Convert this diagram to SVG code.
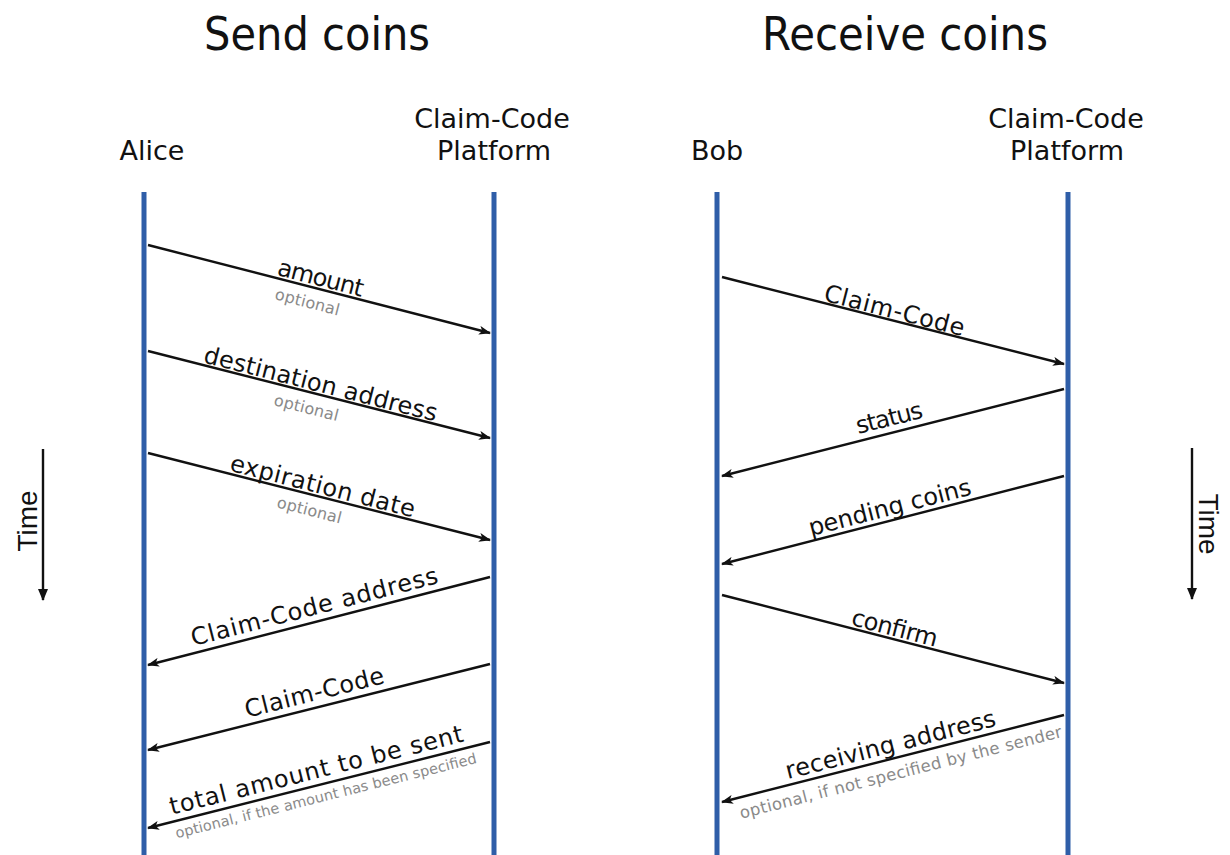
<svg xmlns="http://www.w3.org/2000/svg" width="1230" height="855" viewBox="0 0 1230 855">
<defs>
<marker id="ah" viewBox="0 0 12 10" refX="11" refY="5" markerWidth="12" markerHeight="10" markerUnits="userSpaceOnUse" orient="auto">
<path d="M0,0.5 L12,5 L0,9.5 L3,5 Z" fill="#111"/>
</marker>
<marker id="th" viewBox="0 0 12 10" refX="11" refY="5" markerWidth="12" markerHeight="10" markerUnits="userSpaceOnUse" orient="auto">
<path d="M0,0 L12,5 L0,10 Z" fill="#111"/>
</marker>
<style>
.t{font-family:"DejaVu Sans","Liberation Sans",sans-serif;fill:#111;}
.title{font-size:46px;text-anchor:middle;}
.hd{font-size:27px;text-anchor:middle;}
.lb{font-size:24px;text-anchor:middle;}
.op{font-family:"DejaVu Sans","Liberation Sans",sans-serif;fill:#8a8a8a;text-anchor:middle;}
.time{font-family:"Liberation Sans",Arial,sans-serif;font-size:28px;fill:#111;text-anchor:middle;}
.life{stroke:#2F5EA8;stroke-width:5;fill:none;}
.msg{stroke:#111;stroke-width:2.4;fill:none;marker-end:url(#ah);}
.tarrow{stroke:#111;stroke-width:2.4;fill:none;marker-end:url(#th);}
</style>
</defs>
<rect width="1230" height="855" fill="#fff"/>

<g id="titles">
<text class="t title" x="317" y="50" textLength="226" lengthAdjust="spacingAndGlyphs">Send coins</text>
<text class="t title" x="905" y="50" textLength="286" lengthAdjust="spacingAndGlyphs">Receive coins</text>
</g>

<g id="alice">
<text class="t hd" x="152" y="160">Alice</text>
<line class="life" x1="144" y1="192" x2="144" y2="855"/>
</g>
<g id="platform-send">
<text class="t hd" x="492" y="128">Claim-Code</text>
<text class="t hd" x="494" y="160">Platform</text>
<line class="life" x1="494" y1="192" x2="494" y2="855"/>
</g>
<g id="bob">
<text class="t hd" x="717" y="160">Bob</text>
<line class="life" x1="717" y1="192" x2="717" y2="855"/>
</g>
<g id="platform-receive">
<text class="t hd" x="1066" y="128">Claim-Code</text>
<text class="t hd" x="1067" y="160">Platform</text>
<line class="life" x1="1068" y1="192" x2="1068" y2="855"/>
</g>

<g id="time-left">
<line class="tarrow" x1="43" y1="449" x2="43" y2="600"/>
<text class="time" transform="translate(37,521) rotate(-90)">Time</text>
</g>
<g id="time-right">
<line class="tarrow" x1="1192" y1="448" x2="1192" y2="599"/>
<text class="time" transform="translate(1199,524) rotate(90)">Time</text>
</g>

<g id="connectors">
<line class="msg" x1="148" y1="245" x2="490" y2="333"/>
<line class="msg" x1="148" y1="351" x2="490" y2="438"/>
<line class="msg" x1="148" y1="453" x2="490" y2="540"/>
<line class="msg" x1="490" y1="577" x2="148" y2="665"/>
<line class="msg" x1="490" y1="664" x2="148" y2="750"/>
<line class="msg" x1="490" y1="742" x2="148" y2="828"/>
<line class="msg" x1="722" y1="277" x2="1064" y2="364"/>
<line class="msg" x1="1064" y1="389" x2="722" y2="476"/>
<line class="msg" x1="1064" y1="476" x2="722" y2="564"/>
<line class="msg" x1="722" y1="595" x2="1064" y2="683"/>
<line class="msg" x1="1064" y1="715" x2="722" y2="802"/>
</g>

<g id="labels">
<g transform="translate(318,288.7) rotate(14.4)">
<text class="t lb" x="0" y="-3" textLength="88">amount</text>
<text class="op" x="-7" y="21" font-size="16" textLength="66">optional</text>
</g>
<g transform="translate(318,394.7) rotate(14.3)">
<text class="t lb" x="0" y="-3" textLength="240">destination address</text>
<text class="op" x="-8" y="21" font-size="16" textLength="66">optional</text>
</g>
<g transform="translate(320,496.8) rotate(14.3)">
<text class="t lb" x="0" y="-3" textLength="190">expiration date</text>
<text class="op" x="-7" y="21" font-size="16" textLength="66">optional</text>
</g>
<g transform="translate(318,621.3) rotate(-14.4)">
<text class="t lb" x="0" y="-7" textLength="254">Claim-Code address</text>
</g>
<g transform="translate(318,707) rotate(-14.1)">
<text class="t lb" x="0" y="-7" textLength="143">Claim-Code</text>
</g>
<g transform="translate(320,784.8) rotate(-14.1)">
<text class="t lb" x="0" y="-7" font-size="26" textLength="302">total amount to be sent</text>
<text class="op" x="3" y="17" font-size="14.5" textLength="310">optional, if the amount has been specified</text>
</g>
<g transform="translate(892,320.2) rotate(14.3)">
<text class="t lb" x="0" y="-2" textLength="144">Claim-Code</text>
</g>
<g transform="translate(893,432.5) rotate(-14.3)">
<text class="t lb" x="0" y="-7" textLength="68">status</text>
</g>
<g transform="translate(893,520) rotate(-14.4)">
<text class="t lb" x="0" y="-5" textLength="167">pending coins</text>
</g>
<g transform="translate(892,638.7) rotate(14.4)">
<text class="t lb" x="0" y="-3" textLength="88">confirm</text>
</g>
<g transform="translate(894,758.2) rotate(-14.3)">
<text class="t lb" x="0" y="-6" textLength="216">receiving address</text>
<text class="op" x="3" y="21" font-size="16.5" textLength="332">optional, if not specified by the sender</text>
</g>
</g>
</svg>
